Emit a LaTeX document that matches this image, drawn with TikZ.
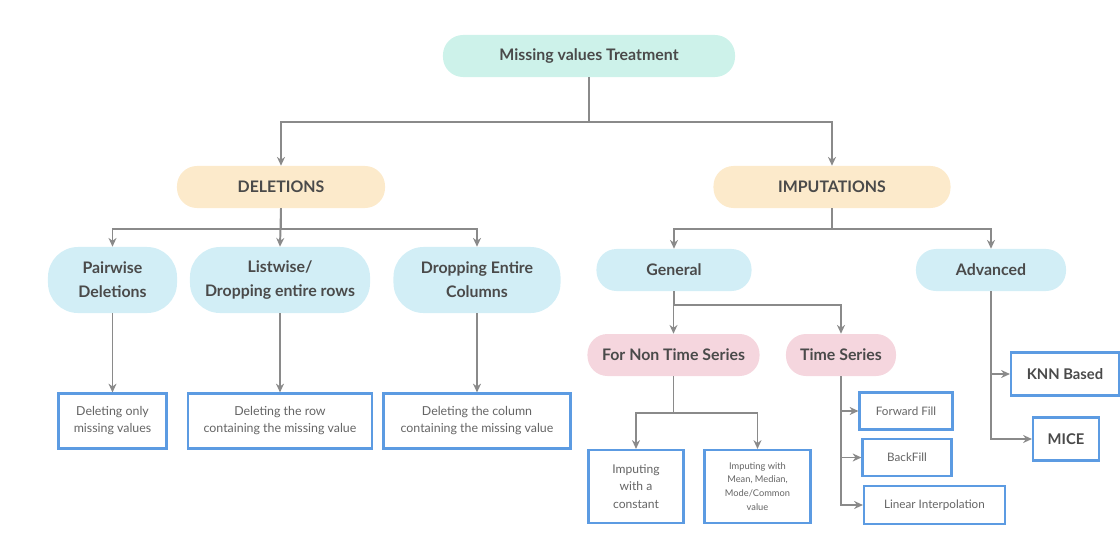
\documentclass[tikz,border=0pt]{standalone}
\usepackage{fontspec}
\setmainfont{Lato}
\usetikzlibrary{arrows.meta}
\definecolor{mint}{HTML}{CDF2EA}
\definecolor{peach}{HTML}{FCEACB}
\definecolor{skyblue}{HTML}{D2EEF6}
\definecolor{rosepink}{HTML}{F5D6DE}
\definecolor{boxblue}{HTML}{5C9BE2}
\definecolor{linegray}{HTML}{8A8A8A}
\definecolor{txtgray}{HTML}{4A4A4A}
\begin{document}
\begin{tikzpicture}[x=0.025cm, y=-0.025cm, >={Stealth[length=2.2mm,width=2mm]},
    pill/.style={rounded corners=0.5cm, minimum height=1.05cm, inner sep=0pt, align=center,
        text=txtgray, font=\fontsize{11.3}{17}\selectfont\bfseries},
    tallpill/.style={pill, rounded corners=0.75cm, minimum height=1.65cm},
    leaf/.style={draw=boxblue, line width=1.5pt, fill=white, inner sep=0pt, align=center,
        text=txtgray!85, font=\fontsize{8.3}{12}\selectfont},
    conn/.style={draw=linegray, line width=1.4pt}]
    \useasboundingbox (0,0) rectangle (1120,534);

    % Nodes
    \node (root) [pill, fill=mint, minimum width=7.3cm] at (589,56) {Missing values Treatment};
    \node (del) [pill, fill=peach, minimum width=5.2cm] at (281,187) {DELETIONS};
    \node (imp) [pill, fill=peach, minimum width=5.925cm] at (832,187) {IMPUTATIONS};

    \node (pair) [tallpill, fill=skyblue, minimum width=3.225cm] at (112.5,280) {Pairwise\\Deletions};
    \node (list) [tallpill, fill=skyblue, minimum width=4.5cm] at (280,280) {Listwise/\\Dropping entire rows};
    \node (drop) [tallpill, fill=skyblue, minimum width=4.175cm] at (477,280) {Dropping Entire\\Columns};
    \node (gen) [pill, fill=skyblue, minimum width=3.875cm] at (674,270) {General};
    \node (adv) [pill, fill=skyblue, minimum width=3.75cm] at (991,270) {Advanced};
    \node (nts) [pill, fill=rosepink, minimum width=4.3cm] at (673.5,355) {For Non Time Series};
    \node (ts) [pill, fill=rosepink, minimum width=2.75cm] at (841,355) {Time Series};

    \node (onlymiss) [leaf, minimum width=2.7cm, minimum height=1.375cm, font=\fontsize{8.8}{12}\selectfont] at (112.5,421) {Deleting only\\missing values};
    \node (rowmiss) [leaf, minimum width=4.6cm, minimum height=1.375cm, font=\fontsize{8.8}{12}\selectfont] at (280,421) {Deleting the row\\containing the missing value};
    \node (colmiss) [leaf, minimum width=4.675cm, minimum height=1.375cm, font=\fontsize{8.8}{12}\selectfont] at (477,421) {Deleting the column\\containing the missing value};
    \node (const) [leaf, minimum width=2.375cm, minimum height=1.825cm, font=\fontsize{8.6}{12.4}\selectfont] at (636,486.5) {Imputing\\with a\\constant};
    \node (mean) [leaf, minimum width=2.65cm, minimum height=1.825cm, font=\fontsize{6.6}{9.8}\selectfont] at (757.5,486.5) {Imputing with\\Mean, Median,\\Mode/Common\\value};
    \node (ffill) [leaf, minimum width=2.325cm, minimum height=0.925cm] at (906,411) {Forward Fill};
    \node (bfill) [leaf, minimum width=2.225cm, minimum height=0.925cm] at (907,457.5) {BackFill};
    \node (linint) [leaf, minimum width=3.525cm, minimum height=0.95cm] at (934.5,505) {Linear Interpolation};
    \node (knn) [leaf, minimum width=2.7cm, minimum height=1.075cm, text=txtgray, font=\fontsize{10.5}{12}\selectfont\bfseries] at (1065,374) {KNN Based};
    \node (mice) [leaf, minimum width=1.65cm, minimum height=1.075cm, text=txtgray, font=\fontsize{10.5}{12}\selectfont\bfseries] at (1066,439) {MICE};

    % Connectors from the root
    \draw[conn, ->] (root.south) -- ++(0,45) -| (del.north);
    \draw[conn, ->] (root.south) -- ++(0,45) -| (imp.north);

    % Deletions
    \draw[conn, ->] (del.south) -- ++(0,21) -| (pair.north);
    \draw[conn, ->] (del.south) -- (list.north);
    \draw[conn, ->] (del.south) -- ++(0,21) -| (drop.north);
    \draw[conn, ->] (pair.south) -- (onlymiss.north);
    \draw[conn, ->] (list.south) -- (rowmiss.north);
    \draw[conn, ->] (drop.south) -- (colmiss.north);

    % Imputations
    \draw[conn, ->] (imp.south) -- ++(0,21) -| (gen.north);
    \draw[conn, ->] (imp.south) -- ++(0,21) -| (adv.north);
    \draw[conn, ->] (gen.south) -- ++(0,14) -| (nts.north);
    \draw[conn, ->] (gen.south) -- ++(0,14) -| (ts.north);
    \draw[conn, ->] (nts.south) -- ++(0,37) -| (const.north);
    \draw[conn, ->] (nts.south) -- ++(0,37) -| (mean.north);
    \draw[conn, ->] (ts.south) |- (ffill.west);
    \draw[conn, ->] (ts.south) |- (bfill.west);
    \draw[conn, ->] (ts.south) |- (linint.west);
    \draw[conn, ->] (adv.south) |- (knn.west);
    \draw[conn, ->] (adv.south) |- (mice.west);
\end{tikzpicture}
\end{document}
